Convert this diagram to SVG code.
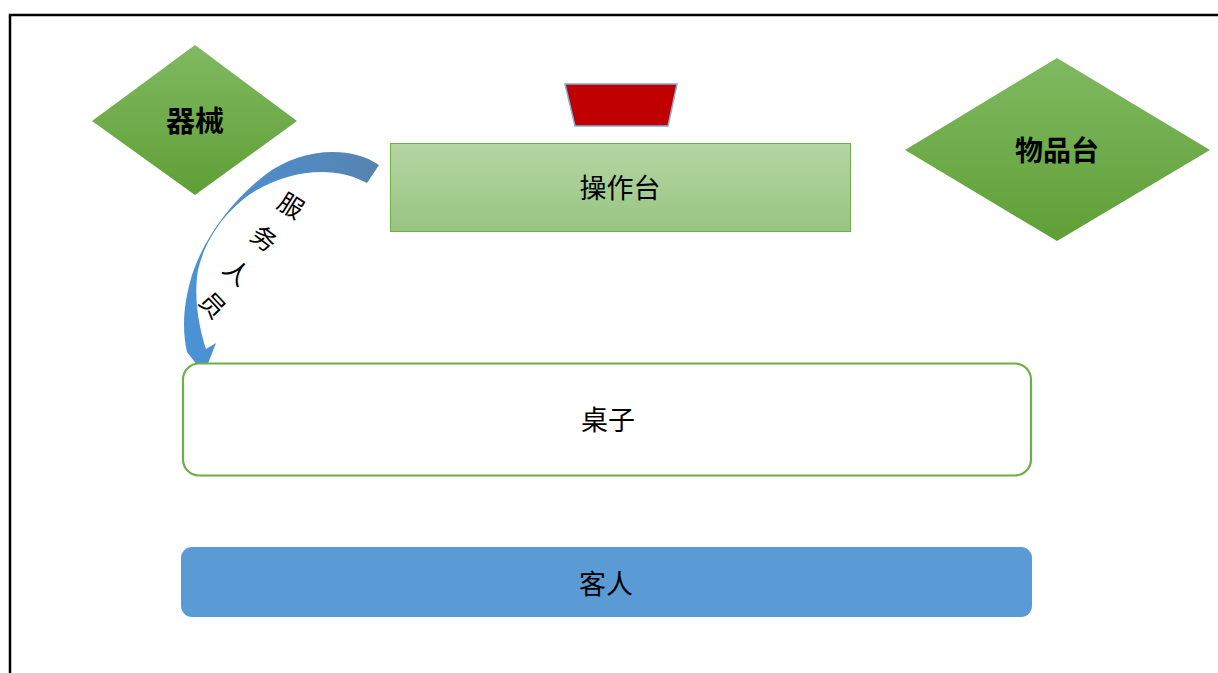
<svg xmlns="http://www.w3.org/2000/svg" width="1218" height="673" viewBox="0 0 1218 673">
<style>
.cjk{font-family:"Noto Sans CJK SC","Noto Sans CJK JP",sans-serif;fill:#000;text-anchor:middle;dominant-baseline:central}
.bold{font-weight:bold;font-size:28px}
.reg{font-size:27px}
.arc{font-size:25px}
</style>
<defs>
<linearGradient id="gDia" x1="0" y1="0" x2="0" y2="1">
<stop offset="0" stop-color="#80B961"/>
<stop offset="1" stop-color="#5F9F36"/>
</linearGradient>
<linearGradient id="gOp" x1="0" y1="0" x2="0" y2="1">
<stop offset="0" stop-color="#B4D6A3"/>
<stop offset="1" stop-color="#98C482"/>
</linearGradient>
<linearGradient id="gArr" x1="180" y1="0" x2="380" y2="0" gradientUnits="userSpaceOnUse">
<stop offset="0" stop-color="#4A93D8"/>
<stop offset="1" stop-color="#5783B0"/>
</linearGradient>
</defs>
<rect x="10" y="15" width="1230" height="700" fill="none" stroke="#000" stroke-width="2.5"/>
<g id="connectors">
<path d="M379,165 C350,145 300,148 265,175 C235,198 205,235 192,275 C183,305 182,330 187,352 L204,374 L216,343 L206,349 C200,330 193,300 198,270 C205,240 225,210 255,191 C290,170 335,165 367,183 Z" fill="url(#gArr)"/>
<text class="cjk arc" transform="translate(292,204) rotate(32)">服</text>
<text class="cjk arc" transform="translate(265,237) rotate(37)">务</text>
<text class="cjk arc" transform="translate(238,271) rotate(42)">人</text>
<text class="cjk arc" transform="translate(214,304) rotate(47)">员</text>
</g>
<g id="qixie">
<polygon points="92,121 195,45 297,121 195,195" fill="url(#gDia)"/>
<text class="cjk bold" x="195" y="119" style="font-size:29px">器械</text>
</g>
<g id="wupintai">
<polygon points="905,150 1057,58 1210,150 1057,241" fill="url(#gDia)"/>
<text class="cjk bold" x="1057" y="149">物品台</text>
</g>
<g id="redblock">
<polygon points="565,84 677,84 668,126 575,126" fill="#C00000" stroke="#7FAEDB" stroke-width="1.5"/>
</g>
<g id="caozuotai">
<rect x="390.5" y="143.5" width="460" height="88" fill="url(#gOp)" stroke="#70AD47" stroke-width="1"/>
<text class="cjk reg" x="620" y="186">操作台</text>
</g>
<g id="zhuozi">
<rect x="183" y="363.5" width="848" height="112" rx="16" fill="#fff" stroke="#70AD47" stroke-width="2.2"/>
<text class="cjk reg" x="608" y="418">桌子</text>
</g>
<g id="keren">
<rect x="181" y="547" width="851" height="70" rx="11" fill="#5B9BD5"/>
<text class="cjk reg" x="606" y="582">客人</text>
</g>
</svg>
